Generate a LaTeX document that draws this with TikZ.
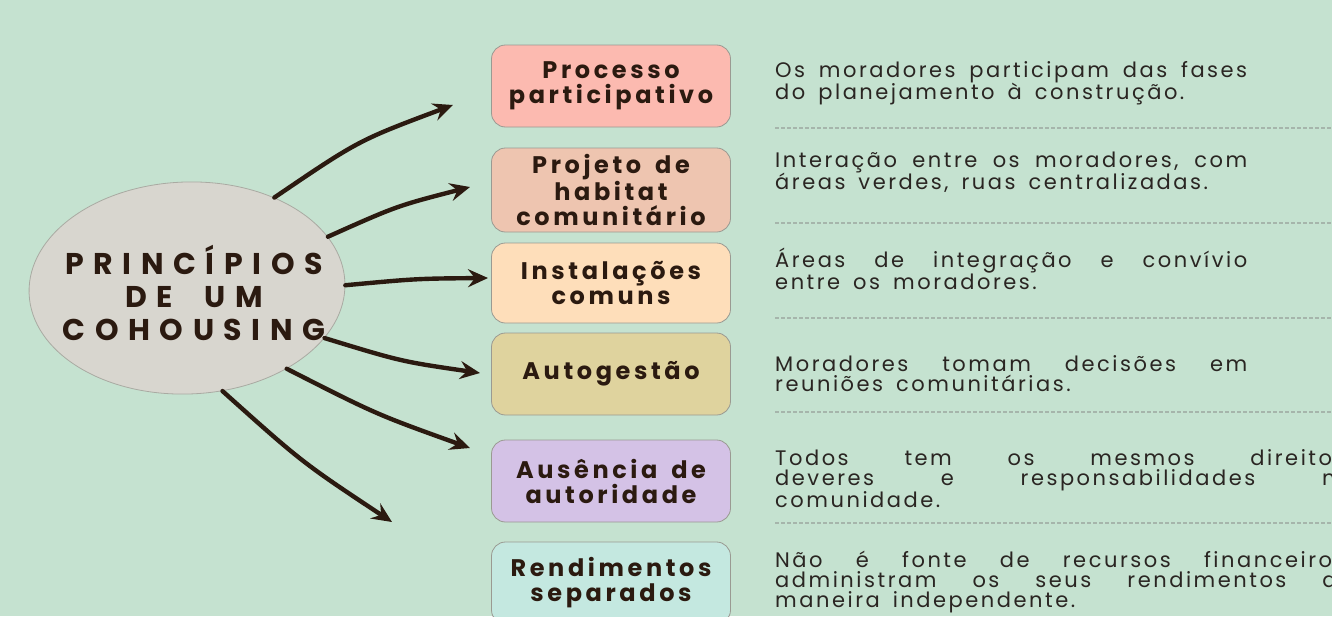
\documentclass[tikz,border=0pt]{standalone}
\usepackage{fontspec}
\setmainfont{Poppins}
\newfontfamily\bodyfont[LetterSpace=12,WordSpace=1.6]{Poppins}
\newfontfamily\labfont[LetterSpace=15,WordSpace=1.6]{Poppins}
\newfontfamily\titfont[LetterSpace=32,WordSpace=2]{Poppins}
\usetikzlibrary{shapes.geometric,arrows.meta,calc}
\definecolor{bg}{HTML}{C5E2D0}
\definecolor{ellfill}{HTML}{D8D6CF}
\definecolor{ellline}{HTML}{A9AAA2}
\definecolor{ink}{HTML}{2B1A10}
\definecolor{txt}{HTML}{2A2522}
\definecolor{boxline}{HTML}{9A9A92}
\definecolor{dashc}{HTML}{A6B5AB}
\definecolor{cA}{HTML}{FCBAB0}
\definecolor{cB}{HTML}{EEC5B0}
\definecolor{cC}{HTML}{FEDEBA}
\definecolor{cD}{HTML}{DFD39E}
\definecolor{cE}{HTML}{D4C2E6}
\definecolor{cF}{HTML}{C4E8E0}
\tikzset{
  boxnode/.style={rectangle, rounded corners=14pt, draw=boxline, line width=0.8pt,
    minimum width=239pt, minimum height=82pt, align=center, inner sep=0pt,
    font=\labfont\bfseries\fontsize{24}{25}\selectfont, text=ink},
  descnode/.style={anchor=base west, inner sep=0pt, align=justify,
    font=\bodyfont\fontsize{21}{20}\selectfont, text=txt},
  dashline/.style={draw=dashc, line width=1.4pt, dash pattern=on 4pt off 2pt},
  arr/.style={draw=ink, line width=4.4pt, line cap=round,
    -{Stealth[length=20pt, width=18pt, inset=7pt]}}
}
\begin{document}
\begin{tikzpicture}[x=1pt,y=-1pt]
\useasboundingbox (0,0) rectangle (1332,616);
\fill[bg] (0,0) rectangle (1332,616);
\begin{scope}
\clip (0,0) rectangle (1332,616);
% central ellipse
\node[ellipse, fill=ellfill, draw=ellline, line width=0.8pt, minimum width=316pt,
  minimum height=212pt, inner sep=0pt, rotate=2] (c) at (187,288) {};
\node[align=center, text=ink, font=\titfont\bfseries\fontsize{30}{33}\selectfont] (t) at (194,293) {PRINCÍPIOS\\DE UM\\COHOUSING};
% boxes
\node[boxnode, fill=cA] (b1) at (611,86) {Processo\\participativo};
\node[boxnode, fill=cB, minimum height=84pt] (b2) at (611,190) {Projeto de\\habitat\\comunitário};
\node[boxnode, fill=cC, minimum height=80pt] (b3) at (611,283) {Instalações\\comuns};
\node[boxnode, fill=cD] (b4) at (611,374) {Autogestão};
\node[boxnode, fill=cE] (b5) at (611,481) {Ausência de\\autoridade};
\node[boxnode, fill=cF] (b6) at (611,583) {Rendimentos\\separados};
% arrow ends
\coordinate (e1) at (453,105);
\coordinate (e2) at (470,187);
\coordinate (e3) at (488,278);
\coordinate (e4) at (480,373);
\coordinate (e5) at (470,448);
\coordinate (e6) at (392,522);
\draw[arr] (c.44) .. controls ($(c.44)!0.5!(e1)+(-5,-11)$) .. (e1);
\draw[arr] (c.18) .. controls ($(c.18)!0.5!(e2)+(-2,-6)$) .. (e2);
\draw[arr] (c.-1) .. controls ($(c.-1)!0.5!(e3)+(0,-3)$) .. (e3);
\draw[arr] (c.-22) .. controls ($(c.-22)!0.5!(e4)+(-1,6)$) .. (e4);
\draw[arr] (c.-41) .. controls ($(c.-41)!0.5!(e5)+(-2,6)$) .. (e5);
\draw[arr] (c.-73) .. controls ($(c.-73)!0.5!(e6)+(-5,6)$) .. (e6);
% descriptions
\node[descnode, text width=472pt] (d1) at (775,77) {Os moradores participam das fases\linebreak do planejamento à construção.};
\node[descnode, text width=472pt] (d2) at (775,167) {Interação entre os moradores, com\linebreak áreas verdes, ruas centralizadas.};
\node[descnode, text width=472pt] (d3) at (775,267) {Áreas de integração e convívio\linebreak entre os moradores.};
\node[descnode, text width=472pt] (d4) at (775,371) {Moradores tomam decisões em\linebreak reuniões comunitárias.};
\node[descnode, text width=577pt] (d5) at (775,465) {Todos tem os mesmos direitos,\linebreak deveres e responsabilidades na\linebreak comunidade.};
\node[descnode, text width=577pt] (d6) at (775,567) {Não é fonte de recursos financeiros,\linebreak administram os seus rendimentos de\linebreak maneira independente.};
% separators
\coordinate (s1a) at (775,128); \coordinate (s1b) at (1332,128);
\coordinate (s2a) at (775,223); \coordinate (s2b) at (1332,223);
\coordinate (s3a) at (775,318); \coordinate (s3b) at (1332,318);
\coordinate (s4a) at (775,412); \coordinate (s4b) at (1332,412);
\coordinate (s5a) at (775,523); \coordinate (s5b) at (1332,523);
\draw[dashline] (s1a) -- (s1b);
\draw[dashline] (s2a) -- (s2b);
\draw[dashline] (s3a) -- (s3b);
\draw[dashline] (s4a) -- (s4b);
\draw[dashline] (s5a) -- (s5b);
\end{scope}
\end{tikzpicture}
\end{document}
